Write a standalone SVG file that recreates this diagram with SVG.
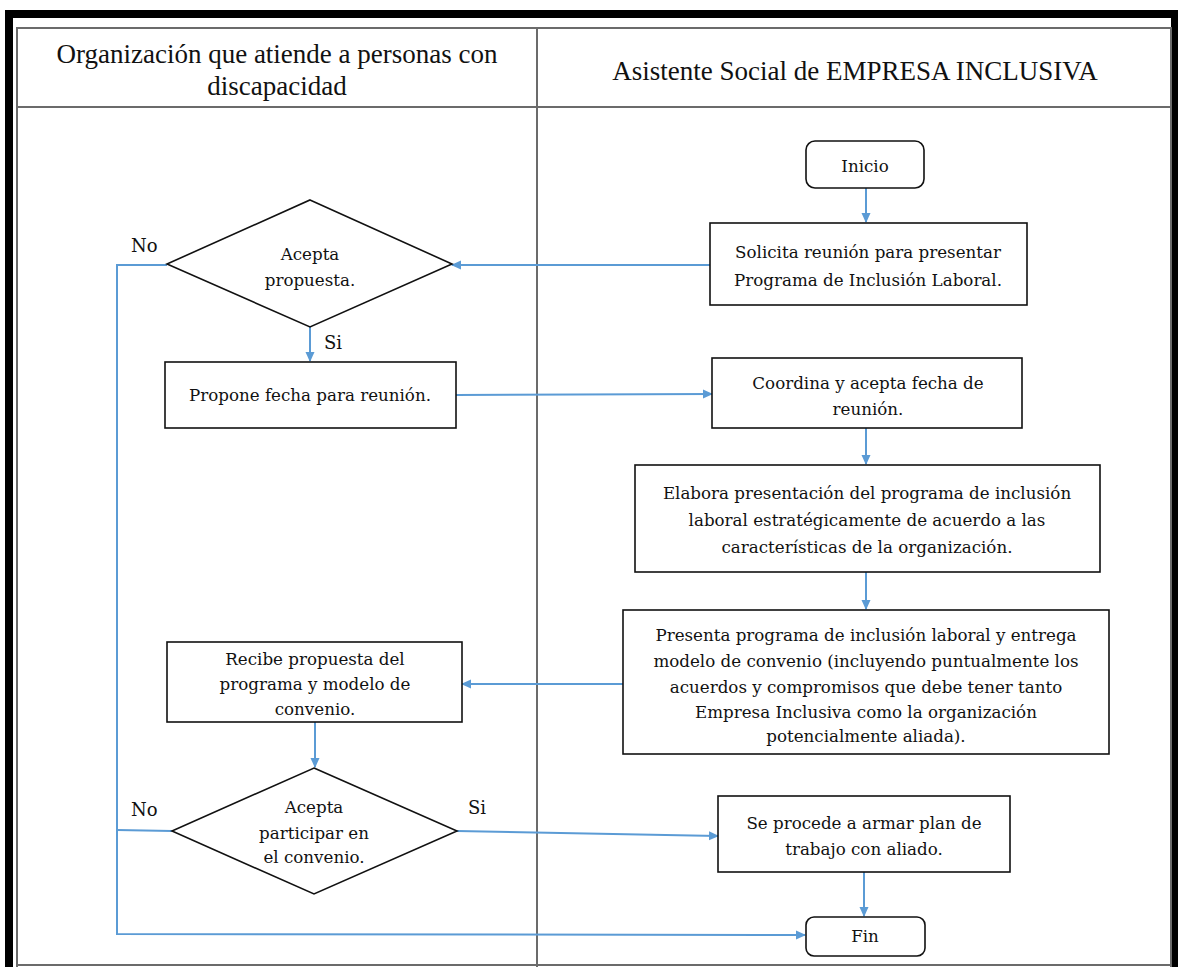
<svg xmlns="http://www.w3.org/2000/svg" width="1178" height="967" viewBox="0 0 1178 967">
<defs>
<marker id="ah" markerWidth="10" markerHeight="10" refX="9" refY="5" orient="auto" markerUnits="userSpaceOnUse">
<path d="M0,0.5 L10,5 L0,9.5 Z" fill="#5B9BD5"/>
</marker>
<style>
.frame{fill:none;stroke:#000;stroke-width:8}
.grid{fill:none;stroke:#6b6b6b;stroke-width:2}
.hdr{font-family:"Liberation Serif","Times New Roman",serif;font-size:27px;fill:#111;text-anchor:middle}
.box{fill:#fff;stroke:#111;stroke-width:1.6}
.t{font-family:"DejaVu Serif",Cambria,serif;font-size:16.7px;fill:#111;text-anchor:middle}
.lbl{font-family:"DejaVu Serif",Cambria,serif;font-size:18px;fill:#111}
.c{fill:none;stroke:#5B9BD5;stroke-width:2}
</style>
</defs>
<rect width="1178" height="967" fill="#fff"/>
<g id="frame">
<path class="frame" d="M9,967 V14 H1175 V967"/>
<path class="grid" d="M17,967 V28 H1171 V967"/>
<line class="grid" x1="17" y1="107" x2="1171" y2="107"/>
<line class="grid" x1="537" y1="28" x2="537" y2="967"/>
<line class="grid" x1="17" y1="965" x2="1171" y2="965"/>
</g>
<g id="header">
<text class="hdr" x="277" y="63">Organización que atiende a personas con</text>
<text class="hdr" x="277" y="95">discapacidad</text>
<text class="hdr" x="855" y="80">Asistente Social de EMPRESA INCLUSIVA</text>
</g>
<g id="connectors">
<line class="c" x1="866" y1="188" x2="866" y2="222" marker-end="url(#ah)"/>
<line class="c" x1="710" y1="265" x2="452" y2="265" marker-end="url(#ah)"/>
<line class="c" x1="310" y1="327" x2="310" y2="361" marker-end="url(#ah)"/>
<line class="c" x1="456" y1="395" x2="712" y2="394" marker-end="url(#ah)"/>
<line class="c" x1="866" y1="428" x2="866" y2="464" marker-end="url(#ah)"/>
<line class="c" x1="866" y1="572" x2="866" y2="609" marker-end="url(#ah)"/>
<line class="c" x1="623" y1="684" x2="462" y2="684" marker-end="url(#ah)"/>
<line class="c" x1="315" y1="722" x2="315" y2="767" marker-end="url(#ah)"/>
<line class="c" x1="457" y1="831" x2="718" y2="836" marker-end="url(#ah)"/>
<line class="c" x1="864" y1="872" x2="864" y2="916" marker-end="url(#ah)"/>
<polyline class="c" points="167,265 117,265 117,934 805,935" marker-end="url(#ah)"/>
<line class="c" x1="172" y1="831" x2="117" y2="830"/>
</g>
<g id="inicio">
<rect class="box" x="806" y="141" width="118" height="47" rx="9"/>
<text class="t" x="865" y="172">Inicio</text>
</g>
<g id="solicita">
<rect class="box" x="710" y="223" width="317" height="82"/>
<text class="t" x="868" y="258">Solicita reunión para presentar</text>
<text class="t" x="868" y="286">Programa de Inclusión Laboral.</text>
</g>
<g id="acepta-propuesta">
<polygon class="box" points="310,200 452,264 310,327 167,264"/>
<text class="t" x="310" y="260">Acepta</text>
<text class="t" x="310" y="286">propuesta.</text>
<text class="lbl" x="131" y="252">No</text>
<text class="lbl" x="324" y="349">Si</text>
</g>
<g id="propone">
<rect class="box" x="165" y="362" width="291" height="66"/>
<text class="t" x="310" y="401">Propone fecha para reunión.</text>
</g>
<g id="coordina">
<rect class="box" x="712" y="358" width="310" height="70"/>
<text class="t" x="868" y="389">Coordina y acepta fecha de</text>
<text class="t" x="868" y="415">reunión.</text>
</g>
<g id="elabora">
<rect class="box" x="635" y="465" width="465" height="107"/>
<text class="t" x="867" y="499">Elabora presentación del programa de inclusión</text>
<text class="t" x="867" y="526">laboral estratégicamente de acuerdo a las</text>
<text class="t" x="867" y="553">características de la organización.</text>
</g>
<g id="presenta">
<rect class="box" x="623" y="610" width="486" height="144"/>
<text class="t" x="866" y="641">Presenta programa de inclusión laboral y entrega</text>
<text class="t" x="866" y="667">modelo de convenio (incluyendo puntualmente los</text>
<text class="t" x="866" y="693">acuerdos y compromisos que debe tener tanto</text>
<text class="t" x="866" y="718">Empresa Inclusiva como la organización</text>
<text class="t" x="866" y="742">potencialmente aliada).</text>
</g>
<g id="recibe">
<rect class="box" x="167" y="642" width="295" height="80"/>
<text class="t" x="315" y="665">Recibe propuesta del</text>
<text class="t" x="315" y="690">programa y modelo de</text>
<text class="t" x="315" y="715">convenio.</text>
</g>
<g id="acepta-convenio">
<polygon class="box" points="314,768 457,831 314,894 172,831"/>
<text class="t" x="314" y="813">Acepta</text>
<text class="t" x="314" y="839">participar en</text>
<text class="t" x="314" y="863">el convenio.</text>
<text class="lbl" x="131" y="816">No</text>
<text class="lbl" x="468" y="814">Si</text>
</g>
<g id="plan">
<rect class="box" x="718" y="796" width="292" height="76"/>
<text class="t" x="864" y="829">Se procede a armar plan de</text>
<text class="t" x="864" y="855">trabajo con aliado.</text>
</g>
<g id="fin">
<rect class="box" x="806" y="917" width="119" height="39" rx="8"/>
<text class="t" x="865" y="942">Fin</text>
</g>
</svg>
